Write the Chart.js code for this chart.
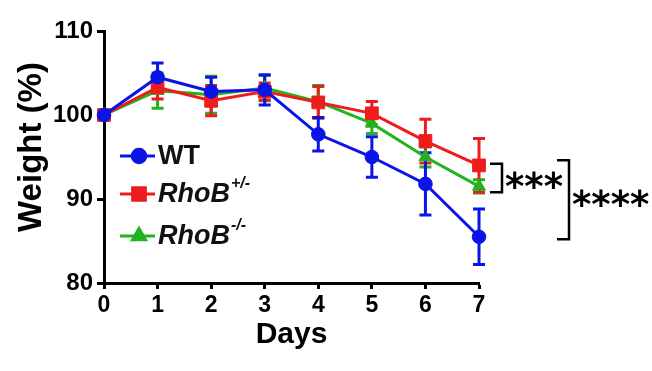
<!DOCTYPE html>
<html>
<head>
<meta charset="utf-8">
<script src="https://cdn.jsdelivr.net/npm/chart.js@4"></script>
<style>
  html, body { margin: 0; padding: 0; background: #fff; }
  #wrap { position: relative; width: 652px; height: 371px; }
</style>
</head>
<body>
<div id="wrap"><canvas id="weightChart" width="652" height="371"></canvas></div>
<script>
const days = [0, 1, 2, 3, 4, 5, 6, 7];
const yTicks = [80, 90, 100, 110];

const wtMean = [100, 104.5, 102.8, 103.0, 97.7, 95.0, 91.8, 85.5];
const wtErr = [0, 1.7, 1.7, 1.8, 2.0, 2.4, 3.7, 3.3];
const hetMean = [100, 103.3, 101.7, 102.8, 101.5, 100.2, 96.9, 94.0];
const hetErr = [0, 1.4, 1.8, 1.0, 1.9, 1.4, 2.6, 3.2];
const koMean = [100, 102.9, 102.4, 103.2, 101.6, 99.0, 95.0, 91.5];
const koErr = [0, 2.1, 2.2, 1.5, 1.9, 1.2, 1.2, 0.8];

const blue = "#0a14e6";
const red = "#ee1c1c";
const green = "#22b31e";
const fontFam = "'Liberation Sans', Arial, sans-serif";

const radii = { circle: 6.8, rect: 9, triangle: 7.5 };

function series(label, mean, err, color, shape) {
  return {
    label: label,
    data: days.map((d, i) => ({ x: d, y: mean[i], err: err[i] })),
    borderColor: color,
    backgroundColor: color,
    borderWidth: 3,
    pointStyle: shape,
    pointRadius: radii[shape],
    pointBorderWidth: 1,
    clip: false,
    tension: 0
  };
}

// error bars drawn from the y scale
const errorBars = {
  id: "errorBars",
  beforeDatasetsDraw(chart) {
    const { ctx, scales } = chart;
    ctx.save();
    chart.data.datasets.slice().reverse().forEach(ds => {
      ctx.strokeStyle = ds.borderColor;
      ctx.lineWidth = 3;
      ds.data.forEach(p => {
        if (!p.err) return;
        const x = scales.x.getPixelForValue(p.x);
        const yt = scales.y.getPixelForValue(p.y + p.err);
        const yb = scales.y.getPixelForValue(p.y - p.err);
        ctx.beginPath();
        ctx.moveTo(x, yt); ctx.lineTo(x, yb);
        ctx.moveTo(x - 6, yt); ctx.lineTo(x + 6, yt);
        ctx.moveTo(x - 6, yb); ctx.lineTo(x + 6, yb);
        ctx.stroke();
      });
    });
    ctx.restore();
  }
};

// y title, in-plot legend and significance brackets
const extras = {
  id: "extras",
  afterDraw(chart) {
    const { ctx, scales } = chart;
    ctx.save();
    ctx.translate(32, 147);
    ctx.rotate(-Math.PI / 2);
    ctx.fillStyle = "#000";
    ctx.font = "bold 33px " + fontFam;
    ctx.textAlign = "center";
    ctx.textBaseline = "middle";
    ctx.fillText("Weight (%)", 0, 0);
    ctx.restore();

    ctx.save();
    const items = [
      { y: 156, color: blue, shape: "circle", parts: [["WT", "bold 27px"]] },
      { y: 194, color: red, shape: "rect", parts: [["RhoB", "italic bold 27px"], ["+/-", "italic bold 16px", -11]] },
      { y: 236, color: green, shape: "triangle", parts: [["RhoB", "italic bold 27px"], ["-/-", "italic bold 16px", -11]] }
    ];
    items.forEach(it => {
      ctx.strokeStyle = it.color;
      ctx.fillStyle = it.color;
      ctx.lineWidth = 3;
      ctx.beginPath();
      ctx.moveTo(120, it.y); ctx.lineTo(155, it.y);
      ctx.stroke();
      Chart.helpers.drawPoint(ctx, { pointStyle: it.shape, radius: radii[it.shape], borderWidth: 1 }, 139, it.y);
      ctx.fillStyle = "#111";
      ctx.textBaseline = "middle";
      let x = 158;
      it.parts.forEach(p => {
        ctx.font = p[1] + " " + fontFam;
        ctx.fillText(p[0], x, it.y + 1 + (p[2] || 0));
        x += ctx.measureText(p[0]).width + 1;
      });
    });

    const y = scales.y;
    ctx.strokeStyle = "#000";
    ctx.lineWidth = 2.5;
    const b1t = y.getPixelForValue(hetMean[7] + 0.2), b1b = y.getPixelForValue(koMean[7] - 0.7);
    ctx.beginPath();
    ctx.moveTo(490, b1t); ctx.lineTo(502, b1t); ctx.lineTo(502, b1b); ctx.lineTo(490, b1b);
    ctx.stroke();
    const b2t = y.getPixelForValue(hetMean[7] + 0.6), b2b = y.getPixelForValue(wtMean[7] - 0.3);
    ctx.beginPath();
    ctx.moveTo(557, b2t); ctx.lineTo(569, b2t); ctx.lineTo(569, b2b); ctx.lineTo(557, b2b);
    ctx.stroke();
    ctx.fillStyle = "#000";
    ctx.font = "bold 37px 'DejaVu Sans', sans-serif";
    ctx.textBaseline = "middle";
    ctx.fillText("***", 505, 189);
    ctx.fillText("****", 572, 207);
    ctx.restore();
  }
};

new Chart(document.getElementById("weightChart"), {
  type: "line",
  data: {
    datasets: [
      series("WT", wtMean, wtErr, blue, "circle"),
      series("RhoB+/-", hetMean, hetErr, red, "rect"),
      series("RhoB-/-", koMean, koErr, green, "triangle")
    ]
  },
  options: {
    responsive: false,
    animation: false,
    layout: { padding: { top: 31, right: 173, left: 0, bottom: 0 } },
    plugins: { legend: { display: false }, tooltip: { enabled: false } },
    scales: {
      x: {
        type: "linear",
        min: 0, max: 7,
        afterBuildTicks: s => { s.ticks = days.map(v => ({ value: v })); },
        afterFit: s => { s.height = 88; },
        border: { display: true, color: "#000", width: 3 },
        grid: { drawOnChartArea: false, drawTicks: true, tickLength: 6, tickWidth: 3, tickColor: "#000" },
        ticks: { color: "#000", padding: 3, font: { family: fontFam, size: 23, weight: "bold" } },
        title: { display: true, text: "Days", color: "#000", padding: { top: 0, bottom: 18 }, font: { family: fontFam, size: 30, weight: "bold" } }
      },
      y: {
        min: 80, max: 110,
        afterBuildTicks: s => { s.ticks = yTicks.map(v => ({ value: v })); },
        afterFit: s => { s.width = 104; },
        border: { display: true, color: "#000", width: 3 },
        grid: { drawOnChartArea: false, drawTicks: true, tickLength: 7, tickWidth: 3, tickColor: "#000" },
        ticks: { color: "#000", padding: 4, font: { family: fontFam, size: 24, weight: "bold" } }
      }
    }
  },
  plugins: [errorBars, extras]
});
</script>
</body>
</html>
